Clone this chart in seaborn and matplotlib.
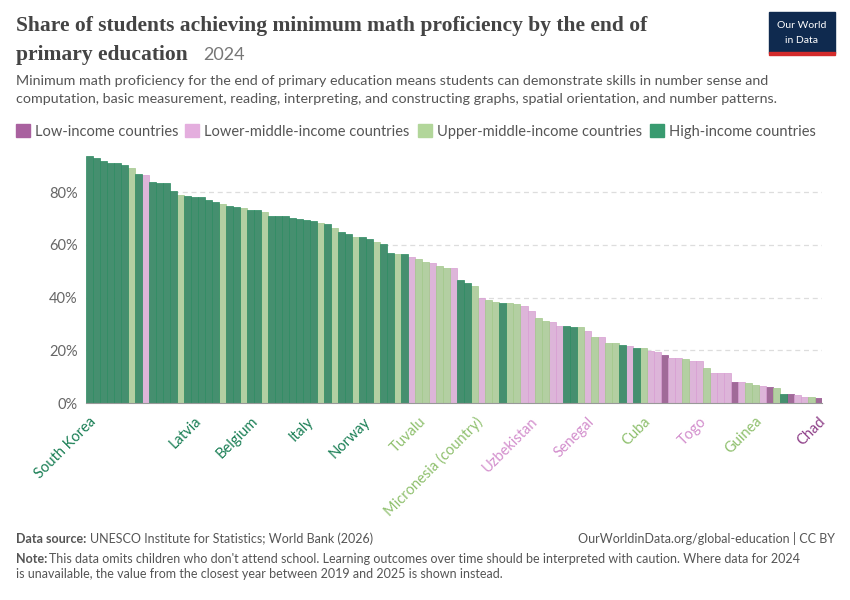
import numpy as np
import pandas as pd
import matplotlib.pyplot as plt
import seaborn as sns

# share of students (%) per country, sorted; group code per bar
values = [93.6, 92.9, 92.0, 91.1, 91.0, 90.5, 89.2, 86.8, 86.5, 83.8,
          83.5, 83.3, 80.3, 78.8, 78.6, 78.1, 78.0, 77.1, 76.4, 75.4,
          74.9, 74.4, 73.9, 73.3, 73.2, 72.5, 71.1, 71.1, 71.0, 70.2,
          70.0, 69.3, 69.2, 68.5, 68.1, 66.5, 64.9, 64.3, 63.2, 62.9,
          62.4, 61.0, 60.3, 56.9, 56.7, 56.4, 55.5, 54.7, 53.6, 53.2,
          52.1, 51.2, 51.1, 46.6, 45.7, 44.6, 40.0, 39.2, 38.4, 38.0,
          38.0, 37.6, 36.9, 35.1, 32.2, 31.3, 30.9, 29.3, 29.3, 29.0,
          29.0, 27.4, 25.1, 25.1, 22.9, 22.9, 22.2, 21.8, 20.9, 20.8,
          19.9, 19.3, 18.1, 17.2, 17.2, 16.7, 16.1, 16.0, 13.2, 11.5,
          11.4, 11.3, 8.0, 7.9, 7.6, 6.8, 6.7, 6.3, 5.7, 3.4,
          3.3, 3.0, 2.5, 2.2, 1.9]
groups = "HHHHHHUHLHHHHUHHHHHUHHUHHUHHHHHHHUHUHHUHHUHHUHLUULUULHHULUUHUULLUULLHHULULUUHLHULLDLLULLULLLDLUULDUHDLLUD"
labels = {1: "South Korea", 16: "Latvia", 24: "Belgium", 32: "Italy", 40: "Norway",
          48: "Tuvalu", 56: "Micronesia (country)", 64: "Uzbekistan", 72: "Senegal",
          80: "Cuba", 88: "Togo", 96: "Guinea", 105: "Chad"}

names = {"D": "Low-income countries", "L": "Lower-middle-income countries",
         "U": "Upper-middle-income countries", "H": "High-income countries"}
colors = {"D": "#a9619f", "L": "#e4aede", "U": "#b2d69a", "H": "#399b70"}
edges = {"D": "#965290", "L": "#d89dd2", "U": "#a2c98a", "H": "#2b8a60"}
text_colors = {"D": "#8e3f88", "L": "#d38fcd", "U": "#8fc06e", "H": "#1a7f55"}

df = pd.DataFrame({"pos": np.arange(len(values)), "value": values, "group": list(groups)})
df["name"] = df["group"].map(names)

sns.set_style("white")
plt.rcParams["font.family"] = ["Lato", "DejaVu Sans"]
fig = plt.figure(figsize=(8.5, 6), dpi=100)
ax = fig.add_axes([0.101, 0.328, 0.866, 0.422])

sns.barplot(data=df, x="pos", y="value", hue="name", dodge=False, width=1.0,
            palette={names[k]: colors[k] for k in names}, hue_order=list(names.values()),
            linewidth=0.5, ax=ax, legend=False)
for p in ax.patches:
    i = int(round(p.get_x() + p.get_width() / 2))
    if 0 <= i < len(groups) and p.get_height() > 0:
        p.set_edgecolor(edges[groups[i]])

ax.set_ylim(0, 96)
ax.set_xlim(-0.5, len(values) - 0.5)
ax.set_yticks([0, 20, 40, 60, 80])
ax.set_yticklabels(["0%", "20%", "40%", "60%", "80%"], color="#666666", fontsize=10.5)
ax.yaxis.grid(True, linestyle=(0, (4, 3)), color="#dddddd", linewidth=0.9)
ax.set_axisbelow(True)
for s in ["top", "right", "left"]:
    ax.spines[s].set_visible(False)
ax.spines["bottom"].set_color("#999999")
ax.tick_params(axis="y", length=0, pad=6)
pos = [k - 1 for k in labels]
ax.set_xticks(pos)
ax.set_xticklabels(list(labels.values()), rotation=45, ha="right",
                   rotation_mode="anchor", fontsize=10.5)
for t, k in zip(ax.get_xticklabels(), labels):
    t.set_color(text_colors[groups[k - 1]])
ax.tick_params(axis="x", length=4, color="#999999", pad=4)
ax.set_xlabel("")
ax.set_ylabel("")

# header
fig.text(0.019, 0.948, "Share of students achieving minimum math proficiency by the end of",
         fontsize=15.5, fontweight="bold", family="Liberation Serif", color="#444444")
fig.text(0.019, 0.900, "primary education", fontsize=15.5, fontweight="bold",
         family="Liberation Serif", color="#444444")
fig.text(0.239, 0.900, "2024", fontsize=13, color="#777777")
fig.text(0.019, 0.858, "Minimum math proficiency for the end of primary education means students can demonstrate skills in number sense and",
         fontsize=10.3, color="#555555")
fig.text(0.019, 0.828, "computation, basic measurement, reading, interpreting, and constructing graphs, spatial orientation, and number patterns.",
         fontsize=10.3, color="#555555")

# legend row
lx = [0.019, 0.218, 0.492, 0.765]
for x, k in zip(lx, names):
    fig.patches.append(plt.Rectangle((x, 0.771), 0.016, 0.022, transform=fig.transFigure,
                                     color=colors[k]))
    fig.text(x + 0.022, 0.773, names[k], fontsize=10.5, color="#555555")

# logo
fig.patches.append(plt.Rectangle((0.905, 0.912), 0.077, 0.068, transform=fig.transFigure,
                                 color="#0f2a4f"))
fig.patches.append(plt.Rectangle((0.905, 0.909), 0.077, 0.004, transform=fig.transFigure,
                                 color="#d42b2b"))
fig.text(0.9435, 0.957, "Our World", fontsize=7.5, color="white", ha="center", va="center")
fig.text(0.9435, 0.933, "in Data", fontsize=7.5, color="white", ha="center", va="center")

# footer
fig.text(0.019, 0.095, "Data source:", fontsize=9, fontweight="bold", color="#555555")
fig.text(0.106, 0.095, "UNESCO Institute for Statistics; World Bank (2026)", fontsize=9, color="#555555")
fig.text(0.982, 0.095, "OurWorldinData.org/global-education | CC BY", fontsize=9,
         color="#555555", ha="right")
fig.text(0.019, 0.062, "Note:", fontsize=9, fontweight="bold", color="#555555")
fig.text(0.058, 0.062, "This data omits children who don't attend school. Learning outcomes over time should be interpreted with caution. Where data for 2024",
         fontsize=9, color="#555555")
fig.text(0.019, 0.037, "is unavailable, the value from the closest year between 2019 and 2025 is shown instead.",
         fontsize=9, color="#555555")

fig.savefig("out.png", dpi=100)
